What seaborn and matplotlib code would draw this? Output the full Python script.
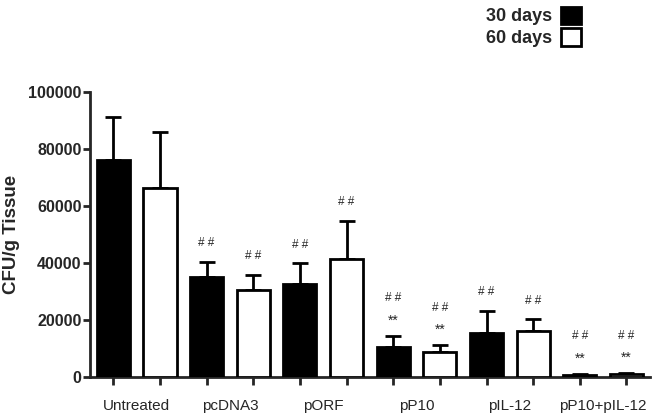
import numpy as np
import pandas as pd
import matplotlib
matplotlib.use("Agg")
import matplotlib.pyplot as plt
from matplotlib.patches import Patch
import seaborn as sns

# Data
groups = ["Untreated", "pcDNA3", "pORF", "pP10", "pIL-12", "pP10+pIL-12"]
periods = ["30 days", "60 days"]
mean_30 = [76000, 35000, 32500, 10500, 15500, 800]
mean_60 = [66500, 30500, 41400, 8800, 16100, 1000]
err_30 = [15100, 5500, 7400, 3900, 7700, 300]
err_60 = [19600, 5300, 13400, 2300, 4100, 300]
hash_30 = ["", "# #", "# #", "# #", "# #", "# #"]
hash_60 = ["", "# #", "# #", "# #", "# #", "# #"]
star_30 = ["", "", "", "**", "", "**"]
star_60 = ["", "", "", "**", "", "**"]

rows = []
for i, g in enumerate(groups):
    rows.append((g, periods[0], mean_30[i], err_30[i], hash_30[i], star_30[i]))
    rows.append((g, periods[1], mean_60[i], err_60[i], hash_60[i], star_60[i]))
df = pd.DataFrame(rows, columns=["group", "period", "cfu", "sem", "hash", "star"])
df["slot"] = [f"{g}|{p}" for g, p in zip(df["group"], df["period"])]

sns.set_style("ticks")
plt.rcParams["font.family"] = ["Liberation Sans", "DejaVu Sans"]

fig = plt.figure(figsize=(6.54, 4.16), dpi=100)
ax = fig.add_axes([0.1376, 0.09375, 0.856, 0.685])

sns.barplot(data=df, x="slot", y="cfu", hue="period",
            palette={"30 days": "black", "60 days": "white"},
            dodge=False, width=0.71, edgecolor="black", linewidth=2.0,
            errorbar=None, legend=False, ax=ax, zorder=3)

xs = np.arange(len(df))
ax.errorbar(xs, df["cfu"], yerr=[np.zeros(len(df)), df["sem"]],
            fmt="none", ecolor="black", elinewidth=2.0, capsize=6,
            capthick=2.0, zorder=2)

# significance marks above the error bars
for x, top, h, s in zip(xs, df["cfu"] + df["sem"], df["hash"], df["star"]):
    if s:
        ax.annotate(s, (x, top), xytext=(0, 11), textcoords="offset points",
                    ha="center", va="center", fontsize=10)
        ax.annotate(h, (x, top), xytext=(0, 27), textcoords="offset points",
                    ha="center", va="center", fontsize=8.5)
    elif h:
        ax.annotate(h, (x, top), xytext=(0, 13.5), textcoords="offset points",
                    ha="center", va="center", fontsize=8.5)

ax.set_xlim(-0.5, len(df) - 0.5)
ax.set_ylim(0, 100000)
ax.set_yticks(np.arange(0, 100001, 20000))
ax.set_yticklabels([str(v) for v in range(0, 100001, 20000)],
                   fontsize=11.5, fontweight="bold")

ax.set_xticks(xs)
ax.set_xticklabels([])
ax.set_xticks(np.arange(len(groups)) * 2 + 0.5, minor=True)
ax.set_xticklabels(groups, minor=True, fontsize=11)
ax.tick_params(axis="x", which="major", length=6, width=2)
ax.tick_params(axis="x", which="minor", length=0, pad=16)
ax.tick_params(axis="y", length=5, width=2, pad=1)
ax.set_xlabel("")
ax.set_ylabel("CFU/g Tissue", fontsize=13.5, fontweight="bold", labelpad=6)

for side in ["top", "right"]:
    ax.spines[side].set_visible(False)
for side in ["left", "bottom"]:
    ax.spines[side].set_linewidth(2)

handles = [Patch(facecolor="black", edgecolor="black", linewidth=2, label=periods[0]),
           Patch(facecolor="white", edgecolor="black", linewidth=2, label=periods[1])]
fig.legend(handles=handles, loc="upper right", bbox_to_anchor=(0.913, 1.023),
           frameon=False, markerfirst=False, handlelength=1.1, handleheight=1.1,
           handletextpad=0.5, labelspacing=0.15,
           prop={"weight": "bold", "size": 13})

fig.savefig("out.png", dpi=100)
